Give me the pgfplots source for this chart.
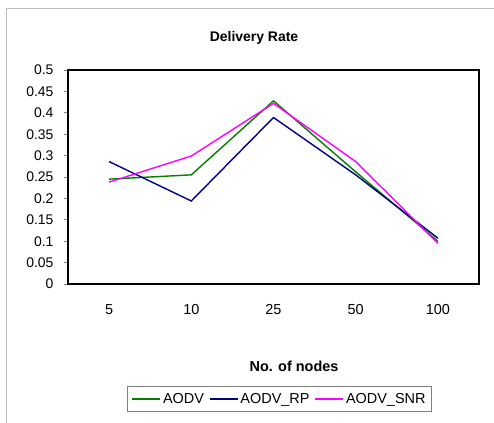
\documentclass[border=0pt]{standalone}
\usepackage{pgfplots}
\pgfplotsset{compat=1.18}
\usepackage{fontspec}
\setmainfont{Liberation Sans}
\definecolor{cgreen}{RGB}{0,128,0}
\definecolor{cblue}{RGB}{0,0,128}
\definecolor{cmag}{RGB}{255,0,255}
\begin{document}
\begin{tikzpicture}
\useasboundingbox (0,0) rectangle (494bp,423bp);
\draw[gray!50, line width=1bp] (6.5bp,0) -- (6.5bp,414.5bp) -- (494bp,414.5bp);
\node[font=\fontsize{14}{16}\selectfont\bfseries] at (254bp,385bp) {Delivery Rate};
\node[font=\fontsize{14.5}{16}\selectfont\bfseries] at (294bp,57bp) {No. of nodes};
\begin{axis}[
  at={(68bp,139bp)}, anchor=south west,
  scale only axis, width=411bp, height=214bp,
  xmin=-0.5, xmax=4.5, ymin=0, ymax=0.5,
  xtick={0,1,2,3,4}, xticklabels={5,10,25,50,100},
  extra x ticks={-0.5,0.5,1.5,2.5,3.5,4.5}, extra x tick labels={},
  extra x tick style={major tick style={draw=gray, line width=0.8bp}},
  ytick={0,0.05,...,0.51},
  yticklabels={0,0.05,0.1,0.15,0.2,0.25,0.3,0.35,0.4,0.45,0.5},
  scaled y ticks=false,
  /pgf/number format/assume math mode=true,
  tick align=outside,
  major tick length=4bp,
  x tick style={draw=none},
  y tick style={gray, line width=0.8bp},
  xtick pos=bottom, ytick pos=left,
  axis line style={black, line width=1.5bp},
  tick label style={font=\fontsize{14}{16}\selectfont},
  xticklabel style={yshift=-13bp, font=\fontsize{14.5}{17}\selectfont},
  yticklabel style={xshift=-7bp},
  every axis plot/.append style={line width=1.4bp, no markers},
  legend style={at={(0.5146,-0.537)}, anchor=center, legend columns=3,
    draw=gray, line width=0.6bp, font=\fontsize{14.5}{16}\selectfont,
    /tikz/every even column/.append style={column sep=3bp},
    inner xsep=4bp, inner ysep=5bp},
  legend image code/.code={\draw[#1, line width=1.2bp] (0cm,0cm) -- (1.0cm,0cm);},
]
\addplot[cgreen] coordinates {(0,0.245) (1,0.255) (2,0.428) (3,0.262) (4,0.100)};
\addplot[cblue] coordinates {(0,0.286) (1,0.194) (2,0.389) (3,0.255) (4,0.107)};
\addplot[cmag] coordinates {(0,0.238) (1,0.299) (2,0.422) (3,0.286) (4,0.095)};
\legend{AODV,AODV\_RP,AODV\_SNR}
\end{axis}
\end{tikzpicture}
\end{document}
